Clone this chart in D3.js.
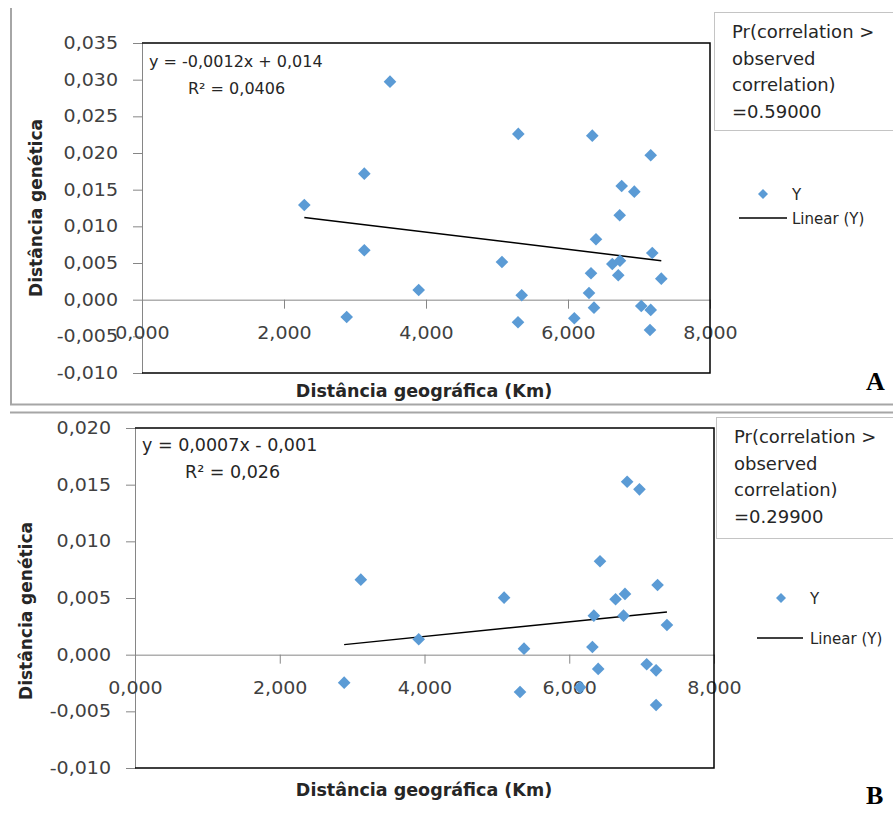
<!DOCTYPE html>
<html>
<head>
<meta charset="utf-8">
<script src="https://cdn.jsdelivr.net/npm/d3@7"></script>
<style>
  body { margin: 0; background: #fff; }
  svg { display: block; font-family: "DejaVu Sans", sans-serif; }
</style>
</head>
<body>
<svg id="chart" width="893" height="816"></svg>
<script>
// Panel A: geographic distance (x 1000 km) vs genetic distance
const distA = [2.286, 3.131, 3.131, 2.883, 3.493, 3.897, 5.07, 5.30, 5.296, 5.348,
  6.342, 6.089, 6.296, 6.324, 6.366, 6.394, 6.624, 6.708, 6.732, 6.728,
  6.756, 6.934, 7.032, 7.165, 7.165, 7.155, 7.187, 7.314];
const genA = [0.01291, 0.01718, 0.00674, -0.00236, 0.02973, 0.00132, 0.00514, 0.0226, -0.00308, 0.0006,
  0.02236, -0.00254, 0.00091, 0.0036, -0.00109, 0.00824, 0.00487, 0.00333, 0.00532, 0.01151,
  0.0155, 0.01473, -0.00086, 0.01969, -0.0014, -0.00413, 0.00637, 0.00286];

// Panel B
const distB = [6.80, 6.97, 6.425, 7.22, 5.10, 6.77, 6.64, 6.34, 6.75, 7.35,
  5.375, 6.32, 6.40, 7.07, 7.20, 5.32, 6.15, 7.20, 3.12, 3.92, 2.89];
const genB = [0.01526, 0.01459, 0.00824, 0.00615, 0.00503, 0.00536, 0.00489, 0.00344, 0.00344, 0.00262,
  0.00053, 0.00068, -0.00126, -0.00085, -0.00138, -0.00329, -0.00288, -0.00444, 0.00662, 0.00136, -0.00247];

// equations as printed on the chart
const trendA = { eq: "y = -0,0012x + 0,014", r2: "R² = 0,0406" };
const trendB = { eq: "y = 0,0007x - 0,001", r2: "R² = 0,026" };

const pTextA = ["Pr(correlation >", "observed", "correlation)", "=0.59000"];
const pTextB = ["Pr(correlation >", "observed", "correlation)", "=0.29900"];

const xTicks = [0, 2, 4, 6, 8];
const yTicksA = [-0.010, -0.005, 0, 0.005, 0.010, 0.015, 0.020, 0.025, 0.030, 0.035];
const yTicksB = [-0.010, -0.005, 0, 0.005, 0.010, 0.015, 0.020];

const xTitle = "Distância geográfica (Km)";
const yTitle = "Distância genética";
const seriesName = "Y";
const trendName = "Linear (Y)";

const BLUE = "#5b9bd5";
const AXIS = "#868686";
const TICK_TXT = "#404040";
const STRETCH = 1.12;

const ptBr = d3.formatLocale({ decimal: ",", thousands: ".", grouping: [3], currency: ["", ""], minus: "-" });
const fmt3 = ptBr.format(".3f");

const svg = d3.select("#chart");

// outer frames
svg.append("path").attr("d", "M11,8V404.5H893").attr("fill", "none").attr("stroke", "#a6a6a6").attr("stroke-width", 2);
svg.append("line").attr("x1", 10).attr("x2", 893).attr("y1", 412.5).attr("y2", 412.5)
  .attr("stroke", "#a6a6a6").attr("stroke-width", 2);

// least squares fit, like Excel's linear trendline
function linFit(xs, ys) {
  const mx = d3.mean(xs), my = d3.mean(ys);
  let sxy = 0, sxx = 0;
  xs.forEach((v, i) => { sxy += (v - mx) * (ys[i] - my); sxx += (v - mx) * (v - mx); });
  const slope = sxy / sxx;
  return { slope, intercept: my - slope * mx };
}

function drawPanel(cfg) {
  const g = svg.append("g");
  const x = d3.scaleLinear().domain([0, 8]).range([cfg.left, cfg.right]);
  const y = d3.scaleLinear().domain(cfg.yDomain).range([cfg.bottom, cfg.top]);

  // y axis
  const yAx = g.append("g").attr("transform", `translate(${cfg.left},0)`)
    .call(d3.axisLeft(y).tickValues(cfg.yTicks).tickSize(9).tickSizeOuter(0).tickPadding(15).tickFormat(fmt3));
  yAx.select(".domain").attr("stroke", AXIS);
  yAx.selectAll("line").attr("stroke", AXIS);
  yAx.selectAll("text").attr("font-size", 17).attr("fill", TICK_TXT).attr("font-family", "DejaVu Sans")
    .attr("x", -24 / STRETCH).attr("transform", `scale(${STRETCH},1)`);

  // x axis at y = 0
  const xAx = g.append("g").attr("transform", `translate(0,${y(0)})`)
    .call(d3.axisBottom(x).tickValues(xTicks).tickSize(9).tickSizeOuter(0).tickPadding(18).tickFormat(fmt3));
  xAx.select(".domain").attr("stroke", AXIS);
  xAx.selectAll("line").attr("stroke", AXIS);
  xAx.selectAll("text").attr("font-size", 17).attr("fill", TICK_TXT).attr("font-family", "DejaVu Sans")
    .attr("transform", `scale(${STRETCH},1)`);

  // plot area border (top, right, bottom)
  g.append("path")
    .attr("d", `M${cfg.left},${cfg.top}H${cfg.right}V${cfg.bottom}H${cfg.left}`)
    .attr("fill", "none").attr("stroke", "#000").attr("stroke-width", 1.5);

  // trend line
  const fit = linFit(cfg.dist, cfg.gen);
  const xs = d3.extent(cfg.dist);
  const line = d3.line().x(d => x(d)).y(d => y(fit.slope * d + fit.intercept));
  g.append("path").attr("d", line(xs)).attr("fill", "none").attr("stroke", "#000").attr("stroke-width", 1.5);

  // points
  const diamond = d3.symbol(d3.symbolSquare, 80);
  g.selectAll("path.pt").data(d3.zip(cfg.dist, cfg.gen)).join("path")
    .attr("class", "pt")
    .attr("d", diamond)
    .attr("transform", d => `translate(${x(d[0])},${y(d[1])}) rotate(45)`)
    .attr("fill", BLUE);

  // equation
  g.append("text").attr("x", cfg.eqX).attr("y", cfg.eqY).attr("font-size", cfg.eqSize)
    .attr("fill", "#262626").text(cfg.trend.eq);
  g.append("text").attr("x", cfg.r2X).attr("y", cfg.eqY + 27).attr("font-size", cfg.eqSize)
    .attr("fill", "#262626").text(cfg.trend.r2);

  // axis titles
  g.append("text").attr("x", 424).attr("y", cfg.xTitleY).attr("text-anchor", "middle")
    .attr("font-size", 17.5).attr("font-weight", "bold").attr("fill", "#262626").text(xTitle);
  g.append("text").attr("transform", `translate(${cfg.yTitleX},${cfg.yTitleY}) rotate(-90)`)
    .attr("text-anchor", "middle").attr("dominant-baseline", "central")
    .attr("font-size", 17).attr("font-weight", "bold").attr("fill", "#262626").text(yTitle);

  // probability box
  g.append("rect").attr("x", cfg.boxX + 0.5).attr("y", cfg.boxY + 0.5).attr("width", 200).attr("height", cfg.boxH)
    .attr("fill", "#fff").attr("stroke", "#c4c4c4");
  g.selectAll("text.ptxt").data(cfg.pText).join("text")
    .attr("class", "ptxt")
    .attr("x", cfg.boxX + 18).attr("y", (d, i) => cfg.boxY + 26 + i * 26.7)
    .attr("font-size", 18).attr("fill", "#262626").text(d => d);

  // legend
  g.append("path").attr("d", d3.symbol(d3.symbolSquare, 50))
    .attr("transform", `translate(${cfg.legX},${cfg.legY}) rotate(45)`).attr("fill", BLUE);
  g.append("text").attr("x", cfg.legTX).attr("y", cfg.legY + 5.5).attr("font-size", 15).attr("fill", "#262626").text(seriesName);
  g.append("line").attr("x1", cfg.legLX0).attr("x2", cfg.legLX1).attr("y1", cfg.legLY).attr("y2", cfg.legLY)
    .attr("stroke", "#000").attr("stroke-width", 1.5);
  g.append("text").attr("x", cfg.legTX).attr("y", cfg.legLY + 5.5).attr("font-size", 15).attr("fill", "#262626").text(trendName);

  // panel letter
  g.append("text").attr("x", 866).attr("y", cfg.letterY).attr("font-family", "Liberation Serif")
    .attr("font-weight", "bold").attr("font-size", 26).attr("fill", "#000").text(cfg.letter);
}

drawPanel({
  left: 142, right: 710, top: 43, bottom: 373, yDomain: [-0.010, 0.035], yTicks: yTicksA,
  dist: distA, gen: genA, trend: trendA,
  eqX: 149, eqY: 67, r2X: 188, eqSize: 16,
  xTitleY: 397, yTitleX: 36, yTitleY: 208,
  boxX: 714, boxY: 12, boxH: 118, pText: pTextA,
  legX: 763, legY: 194, legTX: 792, legLX0: 739, legLX1: 787, legLY: 218,
  letter: "A", letterY: 390
});

drawPanel({
  left: 135, right: 714, top: 428, bottom: 768, yDomain: [-0.010, 0.020], yTicks: yTicksB,
  dist: distB, gen: genB, trend: trendB,
  eqX: 142, eqY: 451, r2X: 185, eqSize: 17.5,
  xTitleY: 796, yTitleX: 26, yTitleY: 611,
  boxX: 716, boxY: 417, boxH: 121, pText: pTextB,
  legX: 781, legY: 598, legTX: 810, legLX0: 757, legLX1: 803, legLY: 638,
  letter: "B", letterY: 804
});
</script>
</body>
</html>
